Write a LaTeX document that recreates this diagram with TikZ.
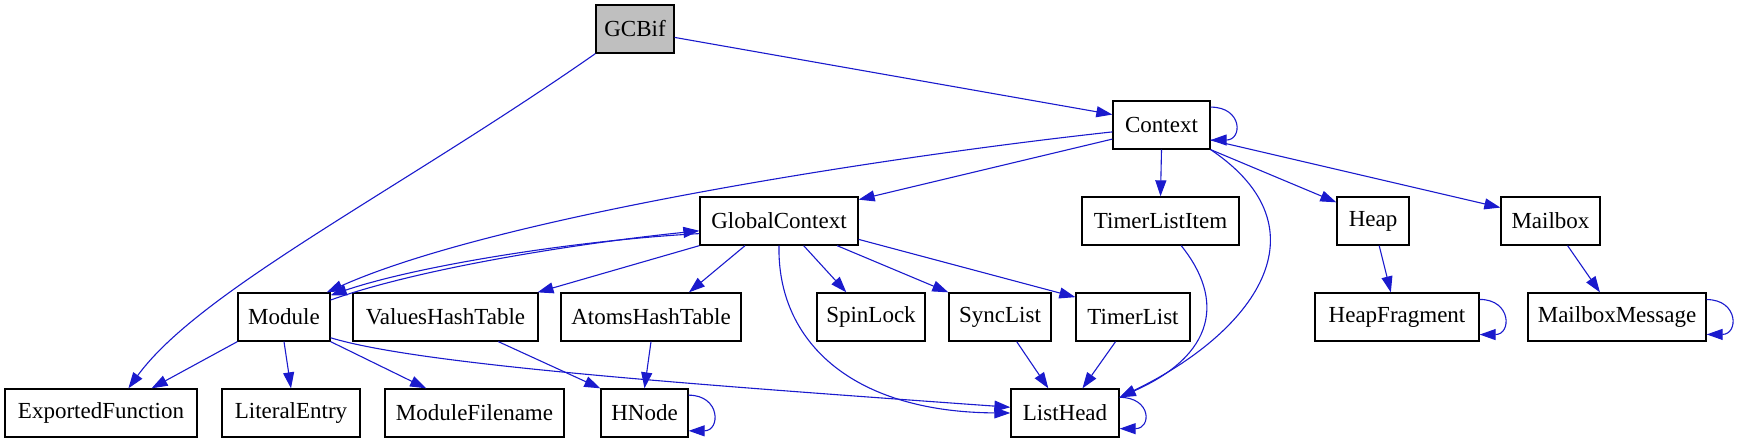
\documentclass[tikz,border=0pt]{standalone}
\usepackage{fontspec}
\setmainfont{Liberation Serif}
\usetikzlibrary{arrows.meta}
\definecolor{edgeblue}{RGB}{26,26,205}
\definecolor{gcgray}{RGB}{191,191,191}
\begin{document}
\begin{tikzpicture}[x=0.5pt, y=-0.5pt,
  every node/.style={draw, line width=0.65pt, minimum height=24pt, inner sep=0pt, font=\fontsize{11.5}{13}\selectfont},
  edge/.style={color=edgeblue, line width=0.55pt, -{Triangle[length=8pt,width=5.5pt]}}]
\useasboundingbox (0,0) rectangle (1739,443);

\node[fill=gcgray, minimum width=39pt] (gcbif) at (635, 29) {GCBif};
\node[minimum width=48.5pt] (context) at (1161.5, 125) {Context};
\node[minimum width=79pt] (globalctx) at (779, 221) {GlobalContext};
\node[minimum width=78.5pt] (timerlistitem) at (1160.5, 221) {TimerListItem};
\node[minimum width=36pt] (heap) at (1373, 221) {Heap};
\node[minimum width=49.5pt] (mailbox) at (1550.5, 221) {Mailbox};
\node[minimum width=46pt] (module) at (284, 317) {Module};
\node[minimum width=92.5pt] (valueshash) at (445.5, 317) {ValuesHashTable};
\node[minimum width=90pt] (atomshash) at (651, 317) {AtomsHashTable};
\node[minimum width=54pt] (spinlock) at (871, 317) {SpinLock};
\node[minimum width=51pt] (synclist) at (1000, 317) {SyncList};
\node[minimum width=57pt] (timerlist) at (1133, 317) {TimerList};
\node[minimum width=82pt] (heapfrag) at (1397, 317) {HeapFragment};
\node[minimum width=89pt] (mailboxmsg) at (1617, 317) {MailboxMessage};
\node[minimum width=96pt] (exportedfn) at (101, 413) {ExportedFunction};
\node[minimum width=69pt] (literalentry) at (291, 413) {LiteralEntry};
\node[minimum width=89.5pt] (modulefile) at (474.5, 413) {ModuleFilename};
\node[minimum width=43.5pt] (hnode) at (644.5, 413) {HNode};
\node[minimum width=54pt] (listhead) at (1065, 413) {ListHead};

\draw[edge] (gcbif.-12) -- (context.168);
\draw[edge] (gcbif.south west) .. controls (400,190) and (200,290) .. (exportedfn.42);
\draw[edge] (context.20) .. controls +(32,0) and +(32,0) .. (context.-17);
\draw[edge] (context.-164) -- (globalctx.15);
\draw[edge] (context.-172) .. controls (900,155) and (500,215) .. (module.30);
\draw[edge] (context.south) -- (timerlistitem.north);
\draw[edge] (context.south east) .. controls (1330,230) and (1253,333) .. (listhead.16);
\draw[edge] (context.south east) -- (heap.153);
\draw[edge] (context.-17) -- (mailbox.165);
\draw[edge] (timerlistitem.-50) .. controls (1225,300) and (1215,355) .. (listhead.16);
\draw[edge] (heap) -- (heapfrag);
\draw[edge] (mailbox) -- (mailboxmsg);
\draw[edge] (heapfrag.12) .. controls +(32,0) and +(32,0) .. (heapfrag.-12);
\draw[edge] (mailboxmsg.11) .. controls +(32,0) and +(32,0) .. (mailboxmsg.-11);

\draw[edge] (globalctx.south west) -- (valueshash.15);
\draw[edge] (globalctx.-144) -- (atomshash.33);
\draw[edge] (globalctx.-45) -- (spinlock.135);
\draw[edge] (globalctx.-23) -- (synclist.north west);
\draw[edge] (globalctx.-13) -- (timerlist.161);
\draw[edge] (globalctx.south) .. controls (777,340) and (850,412) .. (listhead.west);
\draw[edge] (globalctx.-171) .. controls (580,240) and (420,265) .. (module.25);

\draw[edge] (module.20) .. controls (420,268) and (580,243) .. (globalctx.-173);
\draw[edge] (module.south west) -- (exportedfn.26);
\draw[edge] (module.south) -- (literalentry.north);
\draw[edge] (module.south east) -- (modulefile.153);
\draw[edge] (module.-24) .. controls (420,365) and (700,385) .. (listhead.174);
\draw[edge] (valueshash.-25) -- (hnode.north west);
\draw[edge] (atomshash.south) -- (hnode.north);
\draw[edge] (hnode.22) .. controls +(32,0) and +(32,0) .. (hnode.-22);
\draw[edge] (synclist) -- (listhead);
\draw[edge] (timerlist) -- (listhead);
\draw[edge] (listhead.16) .. controls +(32,0) and +(32,0) .. (listhead.-16);
\end{tikzpicture}
\end{document}
